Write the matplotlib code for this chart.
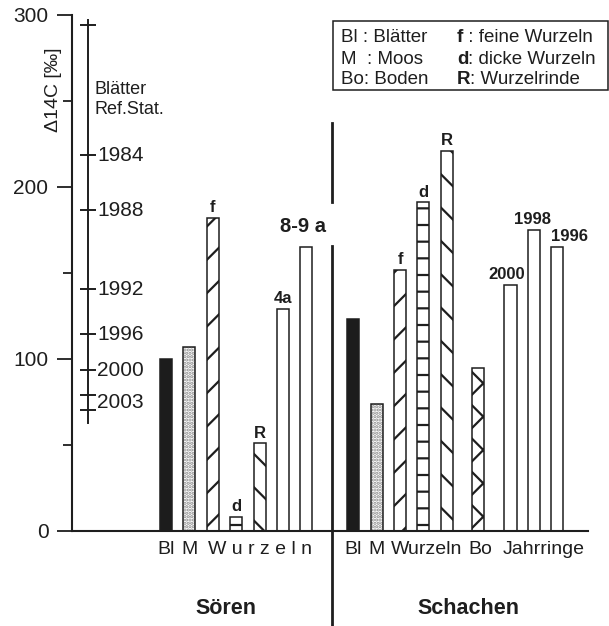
import matplotlib
matplotlib.use("Agg")
import matplotlib.pyplot as plt
from matplotlib.patches import Rectangle

plt.rcParams['font.family'] = ['Liberation Sans', 'DejaVu Sans']
plt.rcParams['hatch.linewidth'] = 1.6

INK = '#1e1e1e'

# --- data (Delta 14C in permille) ---
soeren_keys = ['Bl', 'M', 'f', 'd', 'R', '4a', '8-9a']
soeren_vals = [100, 107, 182, 8, 51, 129, 165]

schachen_keys = ['Bl', 'M', 'f', 'd', 'R', 'Bo', '2000', '1998', '1996']
schachen_vals = [123, 74, 152, 191, 221, 95, 143, 175, 165]

# reference station leaves (Blätter Ref.Stat.)
ref_years = ['1984', '1988', '1992', '1996', '2000']
ref_vals = [218.6, 186.6, 140.5, 114.5, 93.6]
ref_2003 = [79.1, 70.3]
ref_top = 294
ref_range = [63, 297]

# bar slots (Sören 0..6, Schachen 8.. with gaps before Bo and Jahrringe)
soeren_pos = [0, 1, 2, 3, 4, 5, 6]
schachen_pos = [8, 9, 10, 11, 12, 13.35, 14.72, 15.73, 16.72]

styles = {
    'Bl': dict(facecolor='#1c1c1c', hatch=None),
    'M': dict(facecolor='white', hatch='.....'),
    'f': dict(facecolor='white', hatch='/'),
    'd': dict(facecolor='white', hatch='-'),
    'R': dict(facecolor='white', hatch='\\'),
    'Bo': dict(facecolor='white', hatch='x'),
}
plain = dict(facecolor='white', hatch=None)

# labels drawn above bars: key -> (text, x offset in points)
above = {'f': ('f', 0), 'd': ('d', 0), 'R': ('R', 0), '4a': ('4a', 0),
         '2000': ('2000', -3), '1998': ('1998', -1), '1996': ('1996', 9)}

W, H = 609, 626
fig = plt.figure(figsize=(W / 100, H / 100), dpi=100)
ax = fig.add_axes([72 / W, (H - 531) / H, (588 - 72) / W, (531 - 15) / H])
slot = 23.4
ax.set_xlim((72 - 166) / slot, (588 - 166) / slot)
ax.set_ylim(0, 300)


def px_x(p):
    return (p - 166) / slot


def px_y(p):
    return (531 - p) / 1.72


for keys, vals, pos in [(soeren_keys, soeren_vals, soeren_pos),
                        (schachen_keys, schachen_vals, schachen_pos)]:
    for k, v, x in zip(keys, vals, pos):
        st = styles.get(k, plain)
        if k == 'M':
            # light grey stipple, black outline on top
            ax.bar(x, v, width=0.52, facecolor='white', hatch=st['hatch'],
                   edgecolor='#8a8a8a', linewidth=0, zorder=2)
            ax.bar(x, v, width=0.52, fill=False, edgecolor=INK,
                   linewidth=1.1, zorder=2)
        else:
            ax.bar(x, v, width=0.52, facecolor=st['facecolor'],
                   hatch=st['hatch'], edgecolor=INK, linewidth=1.1, zorder=2)
        if k in above:
            txt, dx = above[k]
            ax.annotate(txt, (x, v), xytext=(dx, 2), textcoords='offset points',
                        ha='center', va='bottom', fontsize=12,
                        fontweight='bold', color=INK)

# 8-9 a label
ax.text(px_x(303), px_y(227), '8-9 a', ha='center', va='center',
        fontsize=14.5, fontweight='bold', color=INK)

# axes styling
for s in ['top', 'right']:
    ax.spines[s].set_visible(False)
ax.spines['left'].set_linewidth(1.5)
ax.spines['bottom'].set_linewidth(1.5)
ax.spines['left'].set_color(INK)
ax.spines['bottom'].set_color(INK)
ax.set_xticks([])
ax.set_yticks([0, 100, 200, 300])
ax.set_yticks([50, 150, 250], minor=True)
ax.tick_params(axis='y', which='major', length=11, width=1.3, pad=6,
               labelsize=15, colors=INK)
ax.tick_params(axis='y', which='minor', length=6.5, width=1.3, colors=INK)
ax.set_ylabel('\u039414C [\u2030]', fontsize=14, color=INK, va='center')
ax.yaxis.set_label_coords((53.5 - 72) / (588 - 72), px_y(90) / 300)

# reference scale
xr = px_x(88)
hw = 0.35
ax.plot([xr, xr], ref_range, color=INK, lw=1.4, clip_on=False, zorder=3)
ax.hlines([ref_top] + ref_vals + ref_2003, xr - hw, xr + hw, color=INK,
          lw=1.4, clip_on=False, zorder=3)
for yr, v in zip(ref_years, ref_vals):
    ax.text(px_x(97), v, yr, ha='left', va='center', fontsize=15, color=INK)
ax.text(px_x(97), sum(ref_2003) / 2, '2003', ha='left', va='center',
        fontsize=15, color=INK)
ax.text(px_x(95), px_y(89), 'Blätter', ha='left', va='center',
        fontsize=13, color=INK)
ax.text(px_x(95), px_y(109), 'Ref.Stat.', ha='left', va='center',
        fontsize=13, color=INK)

# divider between sites
xd = px_x(331.7)
ax.plot([xd, xd], [px_y(123), px_y(201.7)], color=INK, lw=2, clip_on=False)
ax.plot([xd, xd], [px_y(246), px_y(626)], color=INK, lw=2, clip_on=False)

# category labels under the axis
ycat = px_y(549)
cat_labels = [('Bl', 0), ('M', 1), ('W u r z e l n', 4),
              ('Bl', 8), ('M', 9), ('Wurzeln', 11.15), ('Bo', 13.45),
              ('Jahrringe', 16.15)]
for t, x in cat_labels:
    ax.text(x, ycat, t, ha='center', va='center', fontsize=14,
            color=INK, clip_on=False)

ax.text(px_x(226), px_y(608), 'Sören', ha='center', va='center',
        fontsize=15.5, fontweight='bold', color=INK)
ax.text(px_x(468), px_y(608), 'Schachen', ha='center', va='center',
        fontsize=15.5, fontweight='bold', color=INK)

# legend box
fig.patches.append(Rectangle((333 / W, 1 - 90 / H), 275 / W, 69.3 / H,
                             transform=fig.transFigure, fill=False,
                             edgecolor=INK, lw=1.1))
left_col = ['Bl : Blätter', 'M  : Moos', 'Bo: Boden']
right_col = [('f', ' : feine Wurzeln'), ('d', ': dicke Wurzeln'),
             ('R', ': Wurzelrinde')]
rows = [38, 59, 79]
for t, yy in zip(left_col, rows):
    fig.text(341 / W, 1 - yy / H, t, ha='left', va='center', fontsize=13.5,
             color=INK)
for (b, t), yy in zip(right_col, rows):
    bt = fig.text(457 / W, 1 - yy / H, b, ha='left', va='center',
                  fontsize=13.5, fontweight='bold', color=INK)
    ax.annotate(t, xy=(1, 0.5), xycoords=bt, ha='left', va='center',
                fontsize=13.5, color=INK, annotation_clip=False)

fig.savefig('out.png', dpi=100)
